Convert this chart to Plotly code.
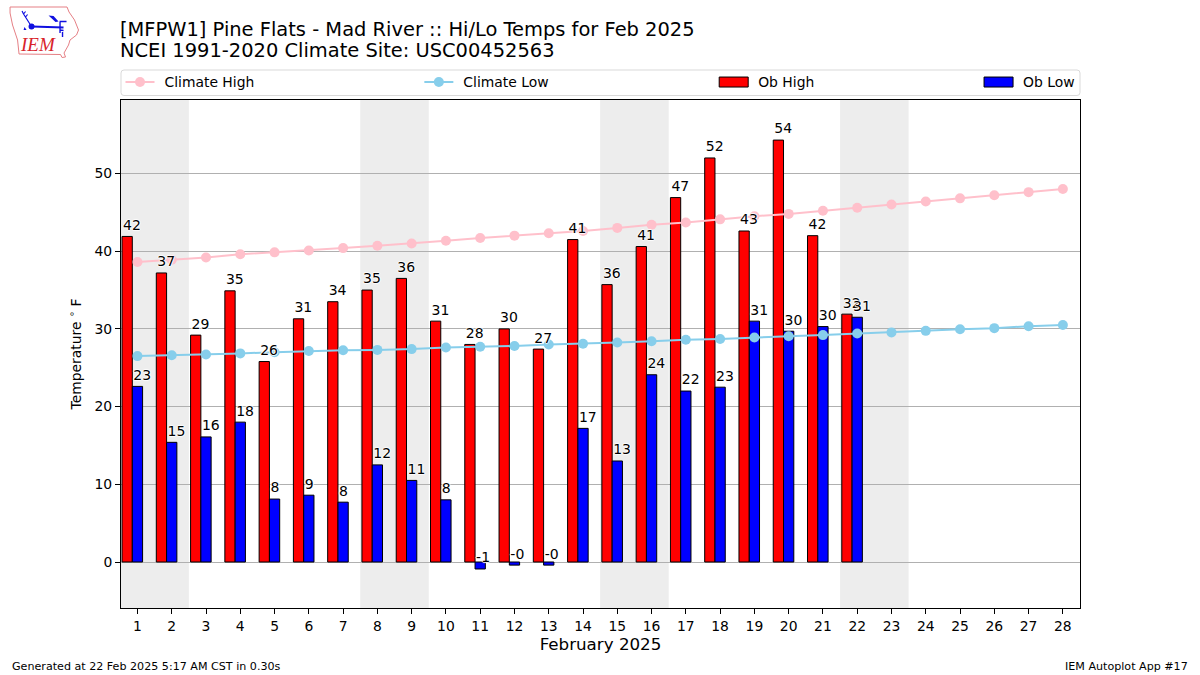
import base64
import plotly.graph_objects as go

days = list(range(1, 29))
ob_days = list(range(1, 23))
climate_high = [38.6, 38.9, 39.2, 39.6, 39.85, 40.1, 40.4, 40.7, 41.0, 41.35, 41.7, 42.0, 42.3, 42.6,
                43.0, 43.4, 43.7, 44.1, 44.5, 44.8, 45.2, 45.6, 46.0, 46.4, 46.8, 47.2, 47.6, 48.0]
climate_low = [26.5, 26.6, 26.7, 26.85, 27.0, 27.15, 27.25, 27.3, 27.4, 27.6, 27.7, 27.8, 28.0, 28.1,
               28.25, 28.4, 28.6, 28.7, 28.9, 29.05, 29.2, 29.4, 29.55, 29.75, 29.95, 30.1, 30.35, 30.5]
ob_high = [41.9, 37.2, 29.2, 34.9, 25.8, 31.3, 33.5, 35.0, 36.5, 31.0, 28.0, 30.0, 27.4, 41.5,
           35.7, 40.6, 46.9, 52.0, 42.6, 54.3, 42.0, 31.9]
ob_low = [22.6, 15.4, 16.1, 18.0, 8.1, 8.6, 7.7, 12.5, 10.5, 8.0, -0.9, -0.4, -0.4, 17.2,
          13.0, 24.1, 22.0, 22.5, 31.0, 29.7, 30.3, 31.5]
high_labels = ["42", "37", "29", "35", "26", "31", "34", "35", "36", "31", "28", "30", "27", "41",
               "36", "41", "47", "52", "43", "54", "42", "32"]
low_labels = ["23", "15", "16", "18", "8", "9", "8", "12", "11", "8", "-1", "-0", "-0", "17",
              "13", "24", "22", "23", "31", "30", "30", "31"]
weekend_spans = [(0.5, 2.5), (7.5, 9.5), (14.5, 16.5), (21.5, 23.5)]
y_ticks = [0, 10, 20, 30, 40, 50]

W, H = 1200, 675
L, R, T, B = 120.5, 1080, 100, 608
FONT = "DejaVu Sans"
BAR_W = 0.3
HIGH_OFFSET = -0.45
LOW_OFFSET = -0.15
LABEL_PAD = 0.4
LABEL_SHIFT = 0.03


def px(x):
    return (x - L) / (R - L)


def py(y):
    return (B - y) / (B - T)


fig = go.Figure()

fig.add_bar(x=ob_days, y=ob_high, width=BAR_W, offset=HIGH_OFFSET, name="Ob High",
            marker=dict(color="red", line=dict(color="black", width=1)), legend="legend3")
fig.add_bar(x=ob_days, y=ob_low, width=BAR_W, offset=LOW_OFFSET, name="Ob Low",
            marker=dict(color="blue", line=dict(color="black", width=1)), legend="legend4")
fig.add_scatter(x=days, y=climate_high, mode="lines+markers", name="Climate High",
                line=dict(color="pink", width=2), marker=dict(color="pink", size=10), legend="legend")
fig.add_scatter(x=days, y=climate_low, mode="lines+markers", name="Climate Low",
                line=dict(color="skyblue", width=2), marker=dict(color="skyblue", size=10), legend="legend2")

shadow = "1px 0 1px white, -1px 0 1px white, 0 1px 1px white, 0 -1px 1px white"
fig.add_scatter(x=[d + HIGH_OFFSET + LABEL_SHIFT for d in ob_days], y=[v + LABEL_PAD for v in ob_high],
                text=high_labels, mode="text", textposition="top right", showlegend=False, cliponaxis=False,
                textfont=dict(family=FONT, size=14, color="#000", shadow=shadow), hoverinfo="skip")
fig.add_scatter(x=[d + LOW_OFFSET + LABEL_SHIFT for d in ob_days], y=[v + LABEL_PAD for v in ob_low],
                text=low_labels, mode="text", textposition="top right", showlegend=False, cliponaxis=False,
                textfont=dict(family=FONT, size=14, color="#000", shadow=shadow), hoverinfo="skip")

shapes = [dict(type="rect", xref="x", yref="paper", x0=a, x1=b, y0=0, y1=1, layer="below",
               fillcolor="#ededed", line_width=0) for a, b in weekend_spans]

# Legend frame (rounded)
x0, x1, y0, y1, r = px(120.5), px(1080), py(95.5), py(70), 3
rx, ry = r / (R - L), r / (B - T)
shapes.append(dict(
    type="path", xref="paper", yref="paper",
    path=(f"M {x0 + rx} {y0} L {x1 - rx} {y0} Q {x1} {y0} {x1} {y0 + ry} L {x1} {y1 - ry} "
          f"Q {x1} {y1} {x1 - rx} {y1} L {x0 + rx} {y1} Q {x0} {y1} {x0} {y1 - ry} "
          f"L {x0} {y0 + ry} Q {x0} {y0} {x0 + rx} {y0} Z"),
    line=dict(color="#d9d9d9", width=1), fillcolor="rgba(0,0,0,0)"))

# Logo: Iowa outline and station model
svg = """<svg xmlns="http://www.w3.org/2000/svg" width="90" height="65" viewBox="0 0 90 65">
<path d="M9.5 7 L66.5 7 L68.5 12 L74 20 L78 30 L76 35 L69.5 40 L68 45 L63.5 53 L65 57 L61.5 57.5 L60 54.5 L18.5 54 L17 40 L12 25 L9.5 13 Z" fill="white" stroke="#e58085" stroke-width="1"/>
<g stroke="#1010e0" fill="none">
<path d="M31 26.5 L63 27.5" stroke-width="2"/>
<path d="M30 25 L23 14 M23 14 L21.5 11 M23 14 L25 11.5 M25 17 L27 14.5" stroke-width="1.2"/>
<path d="M59 21.5 L66 21.5 M59.5 22 L59.5 33 M59.5 30 L63 30.5 M62 32 L62 37" stroke-width="1.4"/>
</g>
<circle cx="31" cy="26.5" r="3" fill="#1010e0"/>
<path d="M48 15.5 L53 16 L58 21.5 L55 22 Z" fill="#1010e0"/>
<path d="M24 27 L26 30 L23 30 Z" fill="#1010e0"/>
</svg>"""
logo = "data:image/svg+xml;base64," + base64.b64encode(svg.encode()).decode()

annotations = [
    dict(text="NCEI 1991-2020 Climate Site: USC00452563", x=px(117), y=py(50.5), xref="paper", yref="paper",
         xanchor="left", yanchor="middle", showarrow=False, font=dict(family=FONT, size=19.44, color="black")),
    dict(text="Generated at 22 Feb 2025 5:17 AM CST in 0.30s", x=px(9), y=py(666), xref="paper", yref="paper",
         xanchor="left", yanchor="middle", showarrow=False, font=dict(family=FONT, size=11.11, color="black")),
    dict(text="IEM Autoplot App #17", x=px(1190), y=py(666), xref="paper", yref="paper",
         xanchor="right", yanchor="middle", showarrow=False, font=dict(family=FONT, size=11.11, color="black")),
    dict(text="<i>IEM</i>", x=px(37.5), y=py(45), xref="paper", yref="paper",
         xanchor="center", yanchor="middle", showarrow=False,
         font=dict(family="Liberation Serif", size=19, color="#d8232a")),
]


def leg(xpix):
    return dict(x=px(xpix), y=py(82.5), xanchor="left", yanchor="middle", orientation="h",
                bgcolor="rgba(0,0,0,0)", borderwidth=0, font=dict(family=FONT, size=13.9, color="black"),
                itemwidth=34, itemclick=False, itemdoubleclick=False)


fig.update_layout(
    width=W, height=H, autosize=False, barmode="overlay", plot_bgcolor="white", paper_bgcolor="white",
    margin=dict(l=L, r=W - R, t=T, b=H - B, pad=0),
    font=dict(family=FONT, size=13.9, color="black"),
    title=dict(text="[MFPW1] Pine Flats - Mad River :: Hi/Lo Temps for Feb 2025", x=120 / W, xanchor="left",
               y=1 - 29 / H, yanchor="middle", font=dict(family=FONT, size=19.44, color="black")),
    shapes=shapes, annotations=annotations,
    images=[dict(source=logo, xref="paper", yref="paper", x=px(0), y=py(0), sizex=90 / (R - L), sizey=65 / (B - T),
                 xanchor="left", yanchor="top", sizing="stretch", layer="above")],
    legend=leg(120), legend2=leg(419), legend3=leg(714), legend4=leg(979),
    xaxis=dict(range=[0.52, 28.5], tickmode="array", tickvals=days, ticktext=[str(d) for d in days],
               ticks="outside", ticklen=5, tickwidth=1, tickcolor="black", showline=True, linecolor="black",
               linewidth=1, mirror=True, showgrid=False, zeroline=False, tickangle=0,
               title=dict(text="February 2025", font=dict(family=FONT, size=16.7, color="black"), standoff=5)),
    yaxis=dict(range=[-5.92, 59.46], tickmode="array", tickvals=y_ticks, ticktext=[str(t) for t in y_ticks],
               ticks="outside", ticklen=5, tickwidth=1, tickcolor="black", showline=True, linecolor="black",
               linewidth=1, mirror=True, showgrid=True, gridcolor="#b0b0b0", gridwidth=1, zeroline=False,
               title=dict(text="Temperature <sup>∘</sup> F", font=dict(family=FONT, size=13.9, color="black"), standoff=9)),
)

post = """
document.body.style.margin='0';document.body.style.overflow='hidden';
var gd=document.getElementById('{plot_id}');
function tuneLegend(){
  gd.querySelectorAll('.legendpoints path').forEach(function(p){
    var d=p.getAttribute('d')||'';
    if(d.indexOf('M6,6H-6')===0){p.setAttribute('d','M12,5H-17V-5H12Z');}
    else if(p.classList.contains('scatterpts')){p.setAttribute('transform','translate(19.5,0)');}
  });
  gd.querySelectorAll('.legendlines path').forEach(function(p){p.setAttribute('d','M5,0H34');});
}
tuneLegend();
if(gd.on){gd.on('plotly_afterplot',tuneLegend);}
setTimeout(tuneLegend,50);setTimeout(tuneLegend,300);
"""
fig.write_html("out.html", post_script=post, config={"displayModeBar": False})
